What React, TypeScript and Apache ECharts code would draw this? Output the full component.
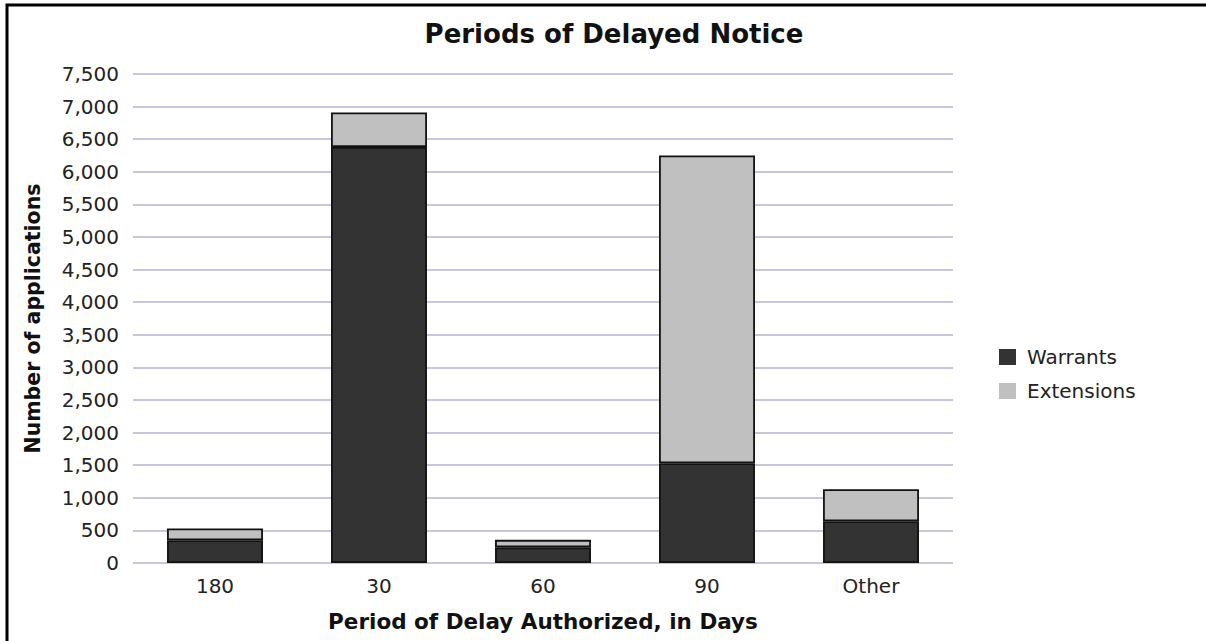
import React, { useEffect, useRef } from "react";
import * as echarts from "echarts";

const categories = ["180", "30", "60", "90", "Other"];
const warrants = [350, 6380, 240, 1530, 640];
const extensions = [180, 530, 115, 4720, 490];
const yTicks = { min: 0, max: 7500, interval: 500 };

export default function App() {
  const ref = useRef<HTMLDivElement>(null);
  useEffect(() => {
    if (!ref.current) return;
    const chart = echarts.init(ref.current, undefined, { renderer: "svg" });
    const font = "DejaVu Sans";
    const barStyle = (color: string) => ({
      color,
      borderColor: "#111111",
      borderWidth: 1.8,
    });
    chart.setOption({
      animation: false,
      backgroundColor: "#ffffff",
      title: {
        text: "Periods of Delayed Notice",
        left: 609,
        top: 16,
        textAlign: "center",
        textStyle: { fontFamily: font, fontSize: 26, fontWeight: "bold", color: "#111" },
      },
      legend: {
        orient: "vertical",
        left: 994,
        top: 342,
        itemWidth: 17,
        itemHeight: 16,
        itemGap: 14,
        icon: "rect",
        itemStyle: { borderWidth: 0 },
        textStyle: { fontFamily: font, fontSize: 20, color: "#222", padding: [0, 0, 0, 6] },
        data: ["Warrants", "Extensions"],
      },
      grid: { left: 133, right: 253, top: 74, bottom: 78, containLabel: false },
      xAxis: {
        type: "category",
        data: categories,
        name: "Period of Delay Authorized, in Days",
        nameLocation: "middle",
        nameGap: 47,
        nameTextStyle: {
          fontFamily: font,
          fontSize: 21.5,
          fontWeight: "bold",
          color: "#111",
        },
        axisLine: { show: false },
        axisTick: { show: false },
        axisLabel: { fontFamily: font, fontSize: 20, color: "#222", margin: 13 },
      },
      yAxis: {
        type: "value",
        min: yTicks.min,
        max: yTicks.max,
        interval: yTicks.interval,
        name: "Number of applications",
        nameLocation: "middle",
        nameGap: 90,
        nameTextStyle: {
          fontFamily: font,
          fontSize: 20.5,
          fontWeight: "bold",
          color: "#111",
        },
        axisLine: { show: false },
        axisTick: { show: false },
        axisLabel: {
          fontFamily: font,
          fontSize: 20,
          color: "#222",
          margin: 14,
          formatter: (v: number) => v.toLocaleString("en-US"),
        },
        splitLine: { lineStyle: { color: "#c8c6dc", width: 2 } },
      },
      series: [
        {
          name: "Warrants",
          type: "bar",
          stack: "total",
          barWidth: "58.5%",
          data: warrants,
          itemStyle: barStyle("#333333"),
        },
        {
          name: "Extensions",
          type: "bar",
          stack: "total",
          data: extensions,
          itemStyle: barStyle("#c0c0c0"),
        },
      ],
      graphic: [
        {
          type: "rect",
          shape: { x: 7, y: 5, width: 1400, height: 800 },
          style: { fill: "none", stroke: "#000", lineWidth: 3 },
          silent: true,
        },
      ],
    });
    return () => chart.dispose();
  }, []);
  return (
    <div
      ref={ref}
      style={{ position: "absolute", left: 0, top: 0, width: 1206, height: 641 }}
    />
  );
}
